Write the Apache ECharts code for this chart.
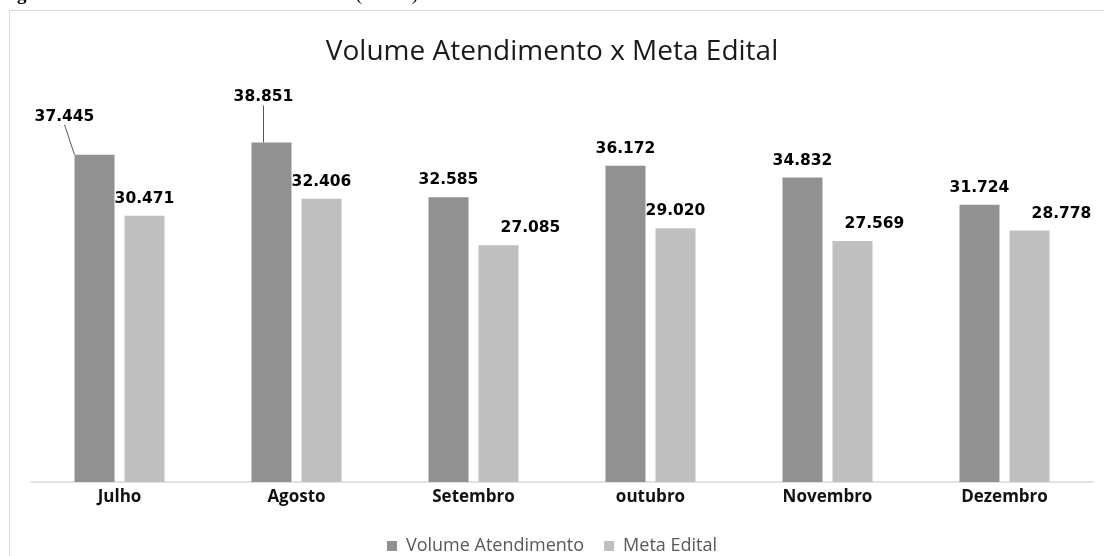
<!DOCTYPE html>
<html>
<head>
<meta charset="utf-8">
<script src="https://cdn.jsdelivr.net/npm/echarts@6/dist/echarts.min.js"></script>
<style>
  html, body { margin: 0; padding: 0; background: #fff; }
  #chart { width: 1104px; height: 556px; }
</style>
</head>
<body>
<div id="chart"></div>
<script>
// dados
const meses = ['Julho', 'Agosto', 'Setembro', 'outubro', 'Novembro', 'Dezembro']
const volumeAtendimento = [37445, 38851, 32585, 36172, 34832, 31724]
const metaEdital = [30471, 32406, 27085, 29020, 27569, 28778]

// deslocamento dos rótulos (como no original)
const volumeShift = { 0: [-30, -21], 1: [-8, -28] }
const metaShift = { 2: [32, 0], 4: [22, 0], 5: [32, 0] }

function fmt(v) {
  return String(v).replace(/\B(?=(\d{3})+(?!\d))/g, '.')
}

const chart = echarts.init(document.getElementById('chart'))

const labelStyle = {
  show: true,
  position: 'top',
  distance: 9,
  fontFamily: 'DejaVu Sans',
  fontWeight: 'bold',
  fontSize: 15.5,
  color: '#000',
  formatter: p => fmt(p.value),
}

// só os rótulos deslocados têm linha guia
const volumeData = volumeAtendimento.map((v, i) => ({
  value: v,
  labelLine: { show: !!volumeShift[i] },
}))

chart.setOption({
  animation: false,
  title: {
    text: 'Volume Atendimento x Meta Edital',
    left: 'center',
    top: 33,
    textStyle: {
      fontFamily: 'Open Sans',
      fontWeight: 'normal',
      fontSize: 28,
      color: '#1a1a1a',
    },
  },
  graphic: [
    {
      type: 'rect',
      shape: { x: 9.5, y: 10.5, width: 1200, height: 700 },
      style: { fill: 'none', stroke: '#d9d9d9', lineWidth: 1 },
      silent: true,
    },
    {
      type: 'text',
      left: 0,
      top: -14,
      style: {
        text: '{b|Figura 11:} Volume atendimento x Meta edital (Sobral)',
        fontFamily: 'Liberation Serif',
        fontSize: 19,
        fill: '#000',
        rich: { b: { fontWeight: 'bold', fontFamily: 'Liberation Serif', fontSize: 19 } },
      },
    },
  ],
  legend: {
    bottom: -4,
    left: 'center',
    icon: 'rect',
    itemWidth: 10,
    itemHeight: 10,
    itemGap: 20,
    textStyle: {
      fontFamily: 'Open Sans',
      fontSize: 18,
      color: '#595959',
      padding: [0, 0, 0, 4],
    },
  },
  grid: { left: 31, right: 11, top: 45, bottom: 74 },
  xAxis: {
    type: 'category',
    data: meses,
    axisLine: { lineStyle: { color: '#d9d9d9', width: 1.5 } },
    axisTick: { show: false },
    axisLabel: {
      margin: 7,
      fontFamily: 'Open Sans',
      fontWeight: 'bold',
      fontSize: 17,
      color: '#111',
    },
  },
  yAxis: {
    type: 'value',
    min: 0,
    max: 50000,
    show: false,
    splitLine: { show: false },
  },
  series: [
    {
      name: 'Volume Atendimento',
      type: 'bar',
      data: volumeData,
      barWidth: 40,
      barGap: '25%',
      itemStyle: { color: '#919191' },
      label: labelStyle,
      labelLayout: p => {
        const s = volumeShift[p.dataIndex]
        return s ? { dx: s[0], dy: s[1] } : {}
      },
      labelLine: { show: false, lineStyle: { color: '#595959', width: 1 } },
    },
    {
      name: 'Meta Edital',
      type: 'bar',
      data: metaEdital,
      barWidth: 40,
      itemStyle: { color: '#bfbfbf' },
      label: labelStyle,
      labelLayout: p => {
        const s = metaShift[p.dataIndex]
        return s ? { dx: s[0], dy: s[1] } : {}
      },
      labelLine: { show: false },
    },
  ],
})
</script>
</body>
</html>
